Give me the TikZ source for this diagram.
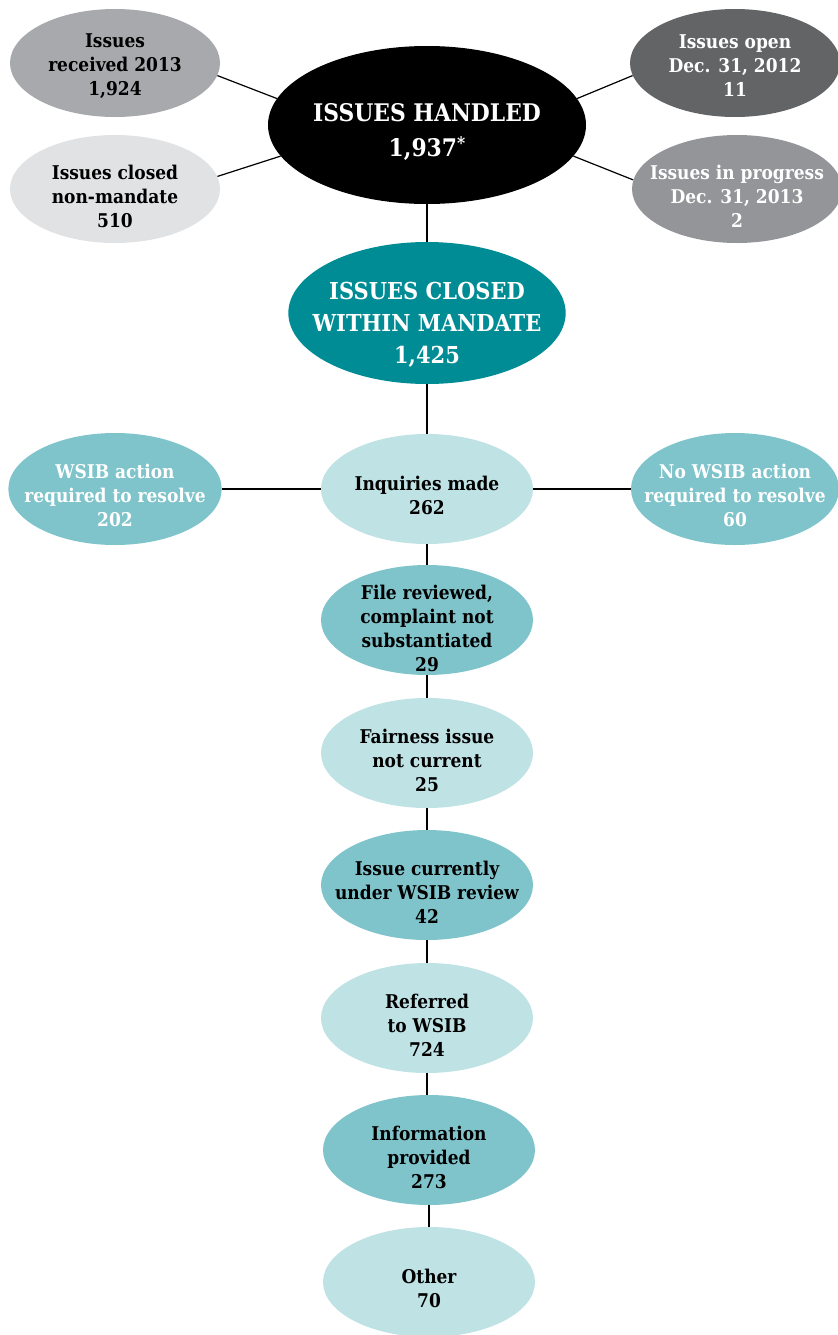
\documentclass[tikz,border=0pt]{standalone}
\usepackage{fontspec}
\setmainfont{DejaVu Serif Condensed}
\usetikzlibrary{shapes.geometric}

\definecolor{greyA}{HTML}{A7A9AC}
\definecolor{greyB}{HTML}{E1E2E3}
\definecolor{greyC}{HTML}{636466}
\definecolor{greyD}{HTML}{939598}
\definecolor{tealA}{HTML}{008C95}
\definecolor{tealB}{HTML}{7FC4CB}
\definecolor{tealC}{HTML}{BFE2E5}

\tikzset{
  bubble/.style={ellipse, inner sep=0pt},
  sidebubble/.style={bubble, minimum width=157.5pt, minimum height=81pt},
  colbubble/.style={bubble, minimum width=159pt, minimum height=82.5pt},
  lbl/.style={align=center, inner sep=0pt,
    font=\bfseries\fontsize{14.2}{18}\selectfont},
  lblw/.style={lbl, text=white},
  link/.style={draw=black, line width=0.9pt}
}

\begin{document}
\begin{tikzpicture}[x=0.75pt, y=-0.75pt]
  \useasboundingbox (0,0) rectangle (838,1335);

  % top row
  \node[bubble, fill=black, minimum width=238.5pt, minimum height=118.5pt] (handled) at (427,125) {};
  \node[lblw, font=\bfseries\fontsize{18.2}{26}\selectfont] (handledtext) at (427,132)
        {ISSUES HANDLED\\1,937\raisebox{0.3em}{\fontsize{13}{13}\selectfont*}};
  \node[sidebubble, fill=greyA] (recv) at (115,63) {};
  \node[lbl] (recvtext) at (115,66) {Issues\\received 2013\\1,924};
  \node[sidebubble, fill=greyB] (nonmand) at (115,189) {};
  \node[lbl] (nonmandtext) at (115,196) {Issues closed\\non-mandate\\510};
  \node[sidebubble, fill=greyC] (open) at (735,63) {};
  \node[lblw] (opentext) at (735,66) {Issues open\\Dec. 31, 2012\\11};
  \node[sidebubble, fill=greyD] (progress) at (737,189) {};
  \node[lblw] (progresstext) at (737,196) {Issues in progress\\Dec. 31, 2013\\2};

  \draw[link] (recv.-7) -- (handled.170);
  \draw[link] (nonmand.7) -- (handled.-168);
  \draw[link] (open.187) -- (handled.10);
  \draw[link] (progress.175) -- (handled.-12);

  % mandate and inquiries
  \node[bubble, fill=tealA, minimum width=208pt, minimum height=106.5pt] (mandate) at (427,313) {};
  \node[lblw, font=\bfseries\fontsize{17.5}{24}\selectfont] (mandatetext) at (427,325)
        {ISSUES CLOSED\\WITHIN MANDATE\\1,425};
  \node[colbubble, fill=tealC] (inquiries) at (427,489) {};
  \node[lbl] (inquiriestext) at (427,495) {Inquiries made\\262};
  \node[bubble, fill=tealB, minimum width=160pt, minimum height=84pt] (wsib) at (115,489) {};
  \node[lblw] (wsibtext) at (115,495) {WSIB action\\required to resolve\\202};
  \node[bubble, fill=tealB, minimum width=156pt, minimum height=84pt] (nowsib) at (735,489) {};
  \node[lblw] (nowsibtext) at (735,495) {No WSIB action\\required to resolve\\60};

  \draw[link] (handled.south) -- (mandate.north);
  \draw[link] (mandate.south) -- (inquiries.north);
  \draw[link] (wsib.east) -- (inquiries.west);
  \draw[link] (nowsib.west) -- (inquiries.east);

  % column of outcomes
  \node[colbubble, fill=tealB] (reviewed) at (427,620) {};
  \node[lbl] (reviewedtext) at (427,628) {File reviewed,\\complaint not\\substantiated\\29};
  \node[colbubble, fill=tealC] (fairness) at (427,753) {};
  \node[lbl] (fairnesstext) at (427,760) {Fairness issue\\not current\\25};
  \node[colbubble, fill=tealB] (underrev) at (427,885) {};
  \node[lbl] (underrevtext) at (427,892) {Issue currently\\under WSIB review\\42};
  \node[colbubble, fill=tealC] (referred) at (427,1018) {};
  \node[lbl] (referredtext) at (427,1025) {Referred\\to WSIB\\724};
  \node[colbubble, fill=tealB] (info) at (429,1150) {};
  \node[lbl] (infotext) at (429,1157) {Information\\provided\\273};
  \node[colbubble, fill=tealC] (other) at (429,1282) {};
  \node[lbl] (othertext) at (429,1288) {Other\\70};

  \draw[link] (inquiries.south) -- (reviewed.north);
  \draw[link] (reviewed.south) -- (fairness.north);
  \draw[link] (fairness.south) -- (underrev.north);
  \draw[link] (underrev.south) -- (referred.north);
  \draw[link] (referred.south) -- (referred.south |- info.north);
  \draw[link] (info.south) -- (other.north);
\end{tikzpicture}
\end{document}
